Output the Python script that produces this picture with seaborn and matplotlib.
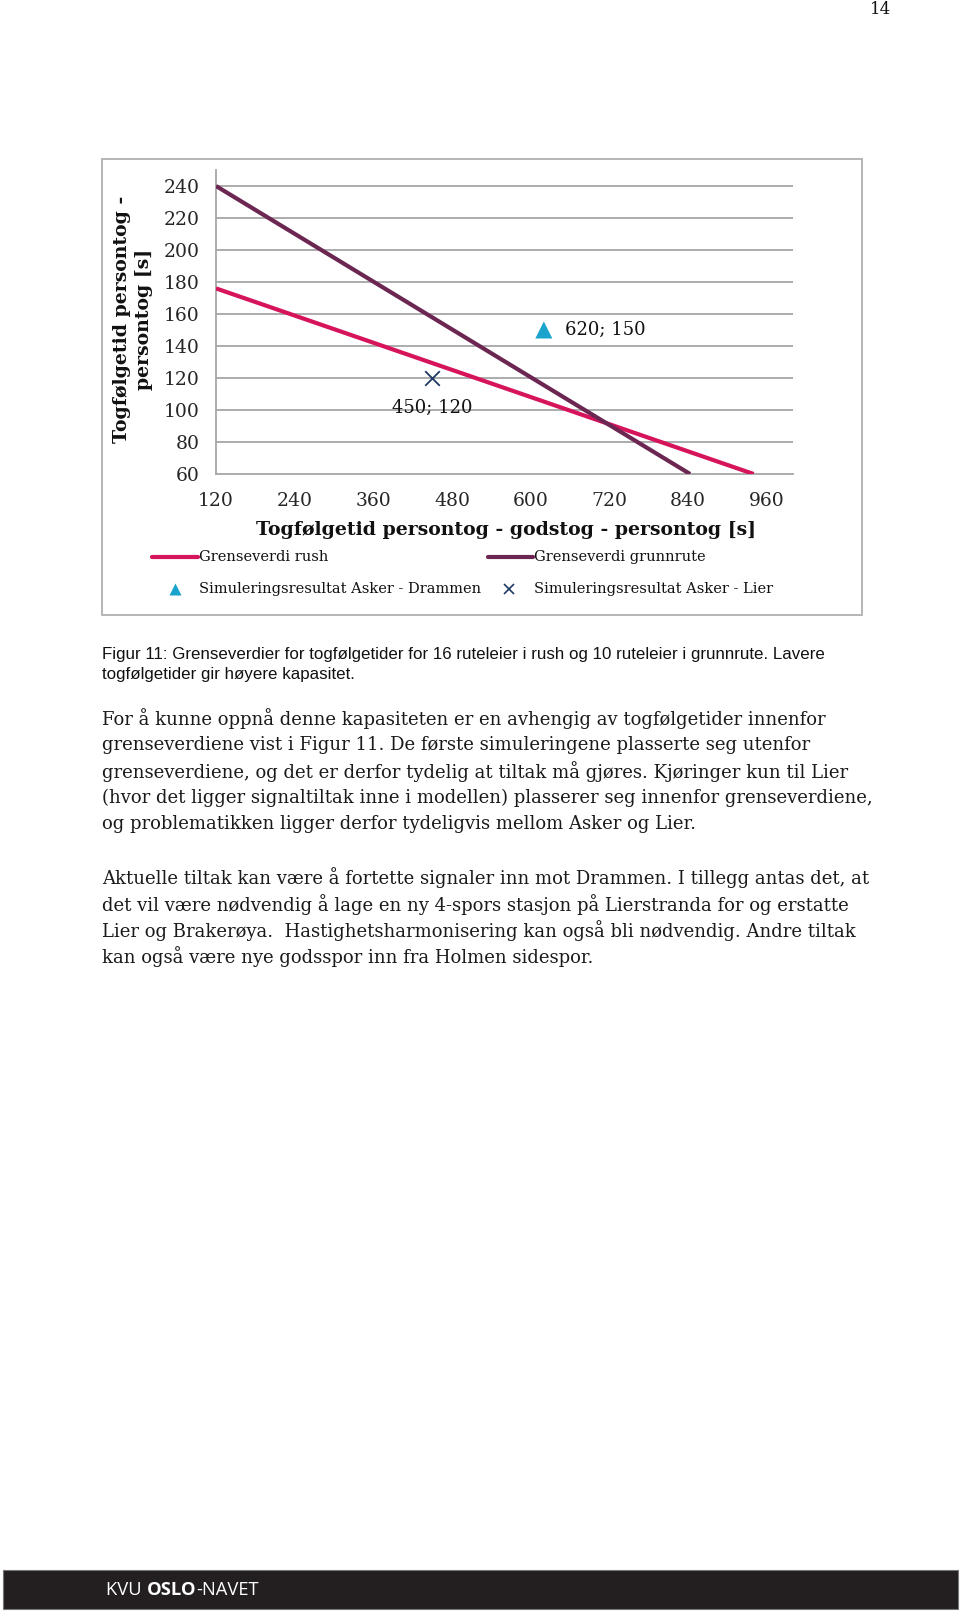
import matplotlib
matplotlib.use("Agg")
import matplotlib.pyplot as plt
import seaborn as sns
import pandas as pd
from matplotlib.patches import Rectangle
from matplotlib.lines import Line2D

# ---------------- data ----------------
rush_x = [120, 940]
rush_y = [176, 60]
grunn_x = [120, 843]
grunn_y = [240, 60]
drammen_x = [620]
drammen_y = [150]
lier_x = [450]
lier_y = [120]
x_ticks = [120, 240, 360, 480, 600, 720, 840, 960]
y_ticks = [60, 80, 100, 120, 140, 160, 180, 200, 220, 240]
legend_labels = ["Grenseverdi rush", "Grenseverdi grunnrute",
                 "Simuleringsresultat Asker - Drammen", "Simuleringsresultat Asker - Lier"]
x_label = "Togfølgetid persontog - godstog - persontog [s]"
y_label = "Togfølgetid persontog -\npersontog [s]"
caption = ["Figur 11: Grenseverdier for togfølgetider for 16 ruteleier i rush og 10 ruteleier i grunnrute. Lavere",
           "togfølgetider gir høyere kapasitet."]
body_p1 = ["For å kunne oppnå denne kapasiteten er en avhengig av togfølgetider innenfor",
           "grenseverdiene vist i Figur 11. De første simuleringene plasserte seg utenfor",
           "grenseverdiene, og det er derfor tydelig at tiltak må gjøres. Kjøringer kun til Lier",
           "(hvor det ligger signaltiltak inne i modellen) plasserer seg innenfor grenseverdiene,",
           "og problematikken ligger derfor tydeligvis mellom Asker og Lier."]
body_p2 = ["Aktuelle tiltak kan være å fortette signaler inn mot Drammen. I tillegg antas det, at",
           "det vil være nødvendig å lage en ny 4-spors stasjon på Lierstranda for og erstatte",
           "Lier og Brakerøya.  Hastighetsharmonisering kan også bli nødvendig. Andre tiltak",
           "kan også være nye godsspor inn fra Holmen sidespor."]
page_number = "14"

# ---------------- style ----------------
sns.set_style("white")
plt.rcParams['font.family'] = ['DejaVu Serif']

PINK = "#d6145c"
PURPLE = "#6b2652"
CYAN = "#1aa3cc"
NAVY = "#1f3864"
GRID = "#a6a6a6"

W, H = 960, 1611
fig = plt.figure(figsize=(W / 100, H / 100), dpi=100)

def fx(px):
    return px / W

def fy(py):
    return 1 - py / H

# chart frame
fig.add_artist(Rectangle((fx(102), fy(615)), fx(862) - fx(102), fy(159) - fy(615),
                         transform=fig.transFigure, fill=False, edgecolor="#b0b0b0", lw=1.3))

# axes: x 120..1000 -> px 216..793, y 60..250 -> px 474..170
ax = fig.add_axes([fx(216), fy(474), fx(793) - fx(216), fy(170) - fy(474)])

df_rush = pd.DataFrame({"x": rush_x, "y": rush_y})
df_grunn = pd.DataFrame({"x": grunn_x, "y": grunn_y})
sns.lineplot(data=df_rush, x="x", y="y", ax=ax, color=PINK, lw=3.0, sort=False,
             solid_capstyle="butt", zorder=3)
sns.lineplot(data=df_grunn, x="x", y="y", ax=ax, color=PURPLE, lw=3.0, sort=False,
             solid_capstyle="butt", zorder=3)
sns.scatterplot(x=drammen_x, y=drammen_y, ax=ax, marker="^", s=150, color=CYAN,
                edgecolor="none", zorder=4)
sns.scatterplot(x=lier_x, y=lier_y, ax=ax, marker="x", s=110, color=NAVY,
                linewidth=1.3, zorder=4)

ax.annotate(f"{drammen_x[0]}; {drammen_y[0]}", (drammen_x[0], drammen_y[0]),
            xytext=(15.5, 0), textcoords="offset points", ha="left", va="center",
            fontsize=13, color="#111111")
ax.annotate(f"{lier_x[0]}; {lier_y[0]}", (lier_x[0], lier_y[0]),
            xytext=(0, -21.5), textcoords="offset points", ha="center", va="center",
            fontsize=13, color="#111111")

ax.set_xlim(120, 1000)
ax.set_ylim(60, 250)
ax.set_xticks(x_ticks)
ax.set_yticks(y_ticks)
ax.set_xticklabels([str(v) for v in x_ticks], fontsize=13.5)
ax.set_yticklabels([str(v) for v in y_ticks], fontsize=13.5)
ax.set_xlabel("")
ax.set_ylabel("")
for yv in y_ticks[1:]:
    ax.axhline(yv, color=GRID, lw=1.3, zorder=1)
for s in ["top", "right"]:
    ax.spines[s].set_visible(False)
for s in ["left", "bottom"]:
    ax.spines[s].set_color(GRID)
    ax.spines[s].set_linewidth(1.3)
ax.tick_params(axis="y", direction="out", length=4.5, width=1.3, color=GRID, pad=7.5)
ax.tick_params(axis="x", direction="out", length=3.5, width=1.3, color=GRID, pad=9.5)
ax.set_facecolor("none")

# axis titles
fig.text(fx(506), fy(530), x_label, ha="center", va="center", fontsize=13.6,
         fontweight="bold", color="#111111")
fig.text(fx(133), fy(319), y_label, ha="center", va="center", fontsize=13.6,
         fontweight="bold", rotation=90, multialignment="center", color="#111111",
         linespacing=1.25)

# legend (manual)
fig.add_artist(Line2D([fx(152), fx(198)], [fy(557), fy(557)], color=PINK, lw=3.0,
                      transform=fig.transFigure))
fig.add_artist(Line2D([fx(488), fx(533)], [fy(557), fy(557)], color=PURPLE, lw=3.0,
                      transform=fig.transFigure))
fig.add_artist(Line2D([fx(175)], [fy(589)], marker="^", markersize=8, color=CYAN,
                      markeredgecolor="none", linestyle="none", transform=fig.transFigure))
fig.add_artist(Line2D([fx(509)], [fy(589)], marker="x", markersize=7, color=NAVY,
                      markeredgewidth=1.2, linestyle="none", transform=fig.transFigure))
leg_pos = [(199, 557), (534, 557), (199, 589), (534, 589)]
for (px, py), lab in zip(leg_pos, legend_labels):
    fig.text(fx(px), fy(py), lab, ha="left", va="center", fontsize=10.5, color="#111111")

# page number
fig.text(fx(881), fy(9), page_number, ha="center", va="center", fontsize=12, color="#111111")

# caption
for i, line in enumerate(caption):
    fig.text(fx(102), fy(654 + i * 20), line, ha="left", va="center", fontsize=12.15,
             family="Liberation Sans", color="#111111")

# body text
for i, line in enumerate(body_p1):
    fig.text(fx(102), fy(719 + i * 26.2), line, ha="left", va="center", fontsize=12.95,
             color="#1a1a1a")
for i, line in enumerate(body_p2):
    fig.text(fx(102), fy(878 + i * 26.2), line, ha="left", va="center", fontsize=12.95,
             color="#1a1a1a")

# footer bar
fig.add_artist(Rectangle((fx(3), fy(1609)), fx(958) - fx(3), fy(1570) - fy(1609),
                         transform=fig.transFigure, facecolor="#231f20", edgecolor="#777777",
                         lw=0.8))
fig.canvas.draw()
renderer = fig.canvas.get_renderer()
xpos = 106
for part, wt in [("KVU ", "normal"), ("OSLO", "bold"), ("-NAVET", "normal")]:
    t = fig.text(fx(xpos), fy(1590), part, ha="left", va="center", fontsize=13.2,
                 family="Open Sans", fontweight=wt, color="white")
    bb = t.get_window_extent(renderer=renderer)
    xpos += bb.width

fig.savefig("out.png", dpi=100)
